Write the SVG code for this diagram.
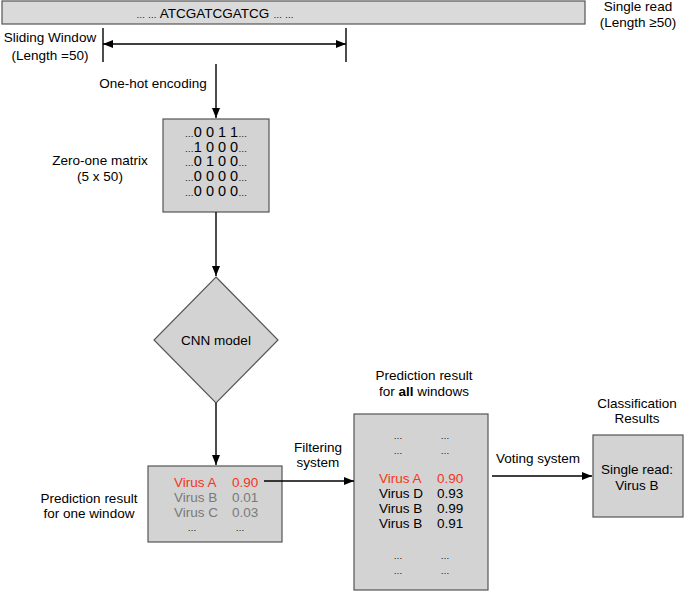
<svg xmlns="http://www.w3.org/2000/svg" width="685" height="592" viewBox="0 0 685 592">
<defs>
<style>
text{font-family:"Liberation Sans",Arial,sans-serif;font-size:13.5px;fill:#000}
.c{text-anchor:middle}
.e{font-size:9px}
.box{fill:#d3d3d3;stroke:#555;stroke-width:1.2}
.ln{stroke:#000;stroke-width:1.4;fill:none}
.red{fill:#f5351a}
.gr{fill:#7a7a7a}
.m{font-size:14.5px}
</style>
<marker id="ah" viewBox="0 0 10 8" refX="10" refY="4" markerWidth="10" markerHeight="8" markerUnits="userSpaceOnUse" orient="auto-start-reverse">
<path d="M0,0 L10,4 L0,8 Z" fill="#000"/>
</marker>
</defs>
<rect width="685" height="592" fill="#fff"/>

<g id="read">
<rect class="box" x="2" y="1" width="583" height="23" style="fill:#dadada"/>
<text class="c" x="215" y="17.5"><tspan class="e">… …</tspan> ATCGATCGATCG <tspan class="e">… …</tspan></text>
<text class="c" x="638" y="11">Single read</text>
<text class="c" x="638" y="27">(Length ≥50)</text>
</g>

<g id="window">
<text class="c" x="50" y="41.5">Sliding Window</text>
<text class="c" x="50" y="59.5">(Length =50)</text>
<line class="ln" x1="103" y1="28" x2="103" y2="62"/>
<line class="ln" x1="346" y1="28" x2="346" y2="62"/>
</g>

<g id="matrix">
<rect class="box" x="163" y="119" width="106" height="93"/>
<text class="c m" x="216" y="137"><tspan class="e">…</tspan>0 0 1 1<tspan class="e">…</tspan></text>
<text class="c m" x="216" y="151.5"><tspan class="e">…</tspan>1 0 0 0<tspan class="e">…</tspan></text>
<text class="c m" x="216" y="166"><tspan class="e">…</tspan>0 1 0 0<tspan class="e">…</tspan></text>
<text class="c m" x="216" y="181"><tspan class="e">…</tspan>0 0 0 0<tspan class="e">…</tspan></text>
<text class="c m" x="216" y="195.5"><tspan class="e">…</tspan>0 0 0 0<tspan class="e">…</tspan></text>
<text class="c" x="100" y="165">Zero-one matrix</text>
<text class="c" x="100" y="181">(5 x 50)</text>
</g>

<g id="cnn">
<polygon class="box" points="216,277 278,340 216,403 154,340"/>
<text class="c" x="216" y="345">CNN model</text>
</g>

<g id="one-window">
<rect class="box" x="148" y="466" width="134" height="76"/>
<text class="red" x="174" y="487">Virus A</text>
<text class="red" x="232" y="487">0.90</text>
<text class="gr" x="174" y="502">Virus B</text>
<text class="gr" x="232" y="502">0.01</text>
<text class="gr" x="174" y="517">Virus C</text>
<text class="gr" x="232" y="517">0.03</text>
<text class="c e" x="192" y="531">…</text>
<text class="c e" x="240" y="531">…</text>
<text class="c" x="89" y="502.5">Prediction result</text>
<text class="c" x="89" y="518">for one window</text>
</g>

<g id="all-windows">
<rect class="box" x="354" y="414" width="134" height="176"/>
<text class="c" x="424" y="379.5">Prediction result</text>
<text class="c" x="424" y="395.5">for <tspan font-weight="bold">all</tspan> windows</text>
<text class="c e" x="398" y="439">…</text>
<text class="c e" x="445" y="439">…</text>
<text class="c e" x="398" y="454">…</text>
<text class="c e" x="445" y="454">…</text>
<text class="red" x="379" y="483">Virus A</text>
<text class="red" x="437" y="483">0.90</text>
<text x="379" y="498">Virus D</text>
<text x="437" y="498">0.93</text>
<text x="379" y="513">Virus B</text>
<text x="437" y="513">0.99</text>
<text x="379" y="528">Virus B</text>
<text x="437" y="528">0.91</text>
<text class="c e" x="398" y="559">…</text>
<text class="c e" x="445" y="559">…</text>
<text class="c e" x="398" y="574">…</text>
<text class="c e" x="445" y="574">…</text>
</g>

<g id="result">
<rect class="box" x="593" y="435" width="90" height="82"/>
<text class="c" x="637" y="407.5">Classification</text>
<text class="c" x="637" y="423">Results</text>
<text class="c" x="637" y="474">Single read:</text>
<text class="c" x="637" y="490">Virus B</text>
</g>

<g id="connectors">
<line class="ln" x1="103" y1="44" x2="346" y2="44" marker-start="url(#ah)" marker-end="url(#ah)"/>
<line class="ln" x1="216" y1="64" x2="216" y2="118" marker-end="url(#ah)"/>
<text class="c" x="153" y="87.5">One-hot encoding</text>
<line class="ln" x1="216" y1="212" x2="216" y2="276" marker-end="url(#ah)"/>
<line class="ln" x1="216" y1="403" x2="216" y2="465" marker-end="url(#ah)"/>
<line class="ln" x1="264" y1="481" x2="354" y2="481" marker-end="url(#ah)"/>
<text class="c" x="318" y="452">Filtering</text>
<text class="c" x="318" y="467">system</text>
<line class="ln" x1="492" y1="476" x2="592" y2="476" marker-end="url(#ah)"/>
<text class="c" x="538" y="463">Voting system</text>
</g>
</svg>
